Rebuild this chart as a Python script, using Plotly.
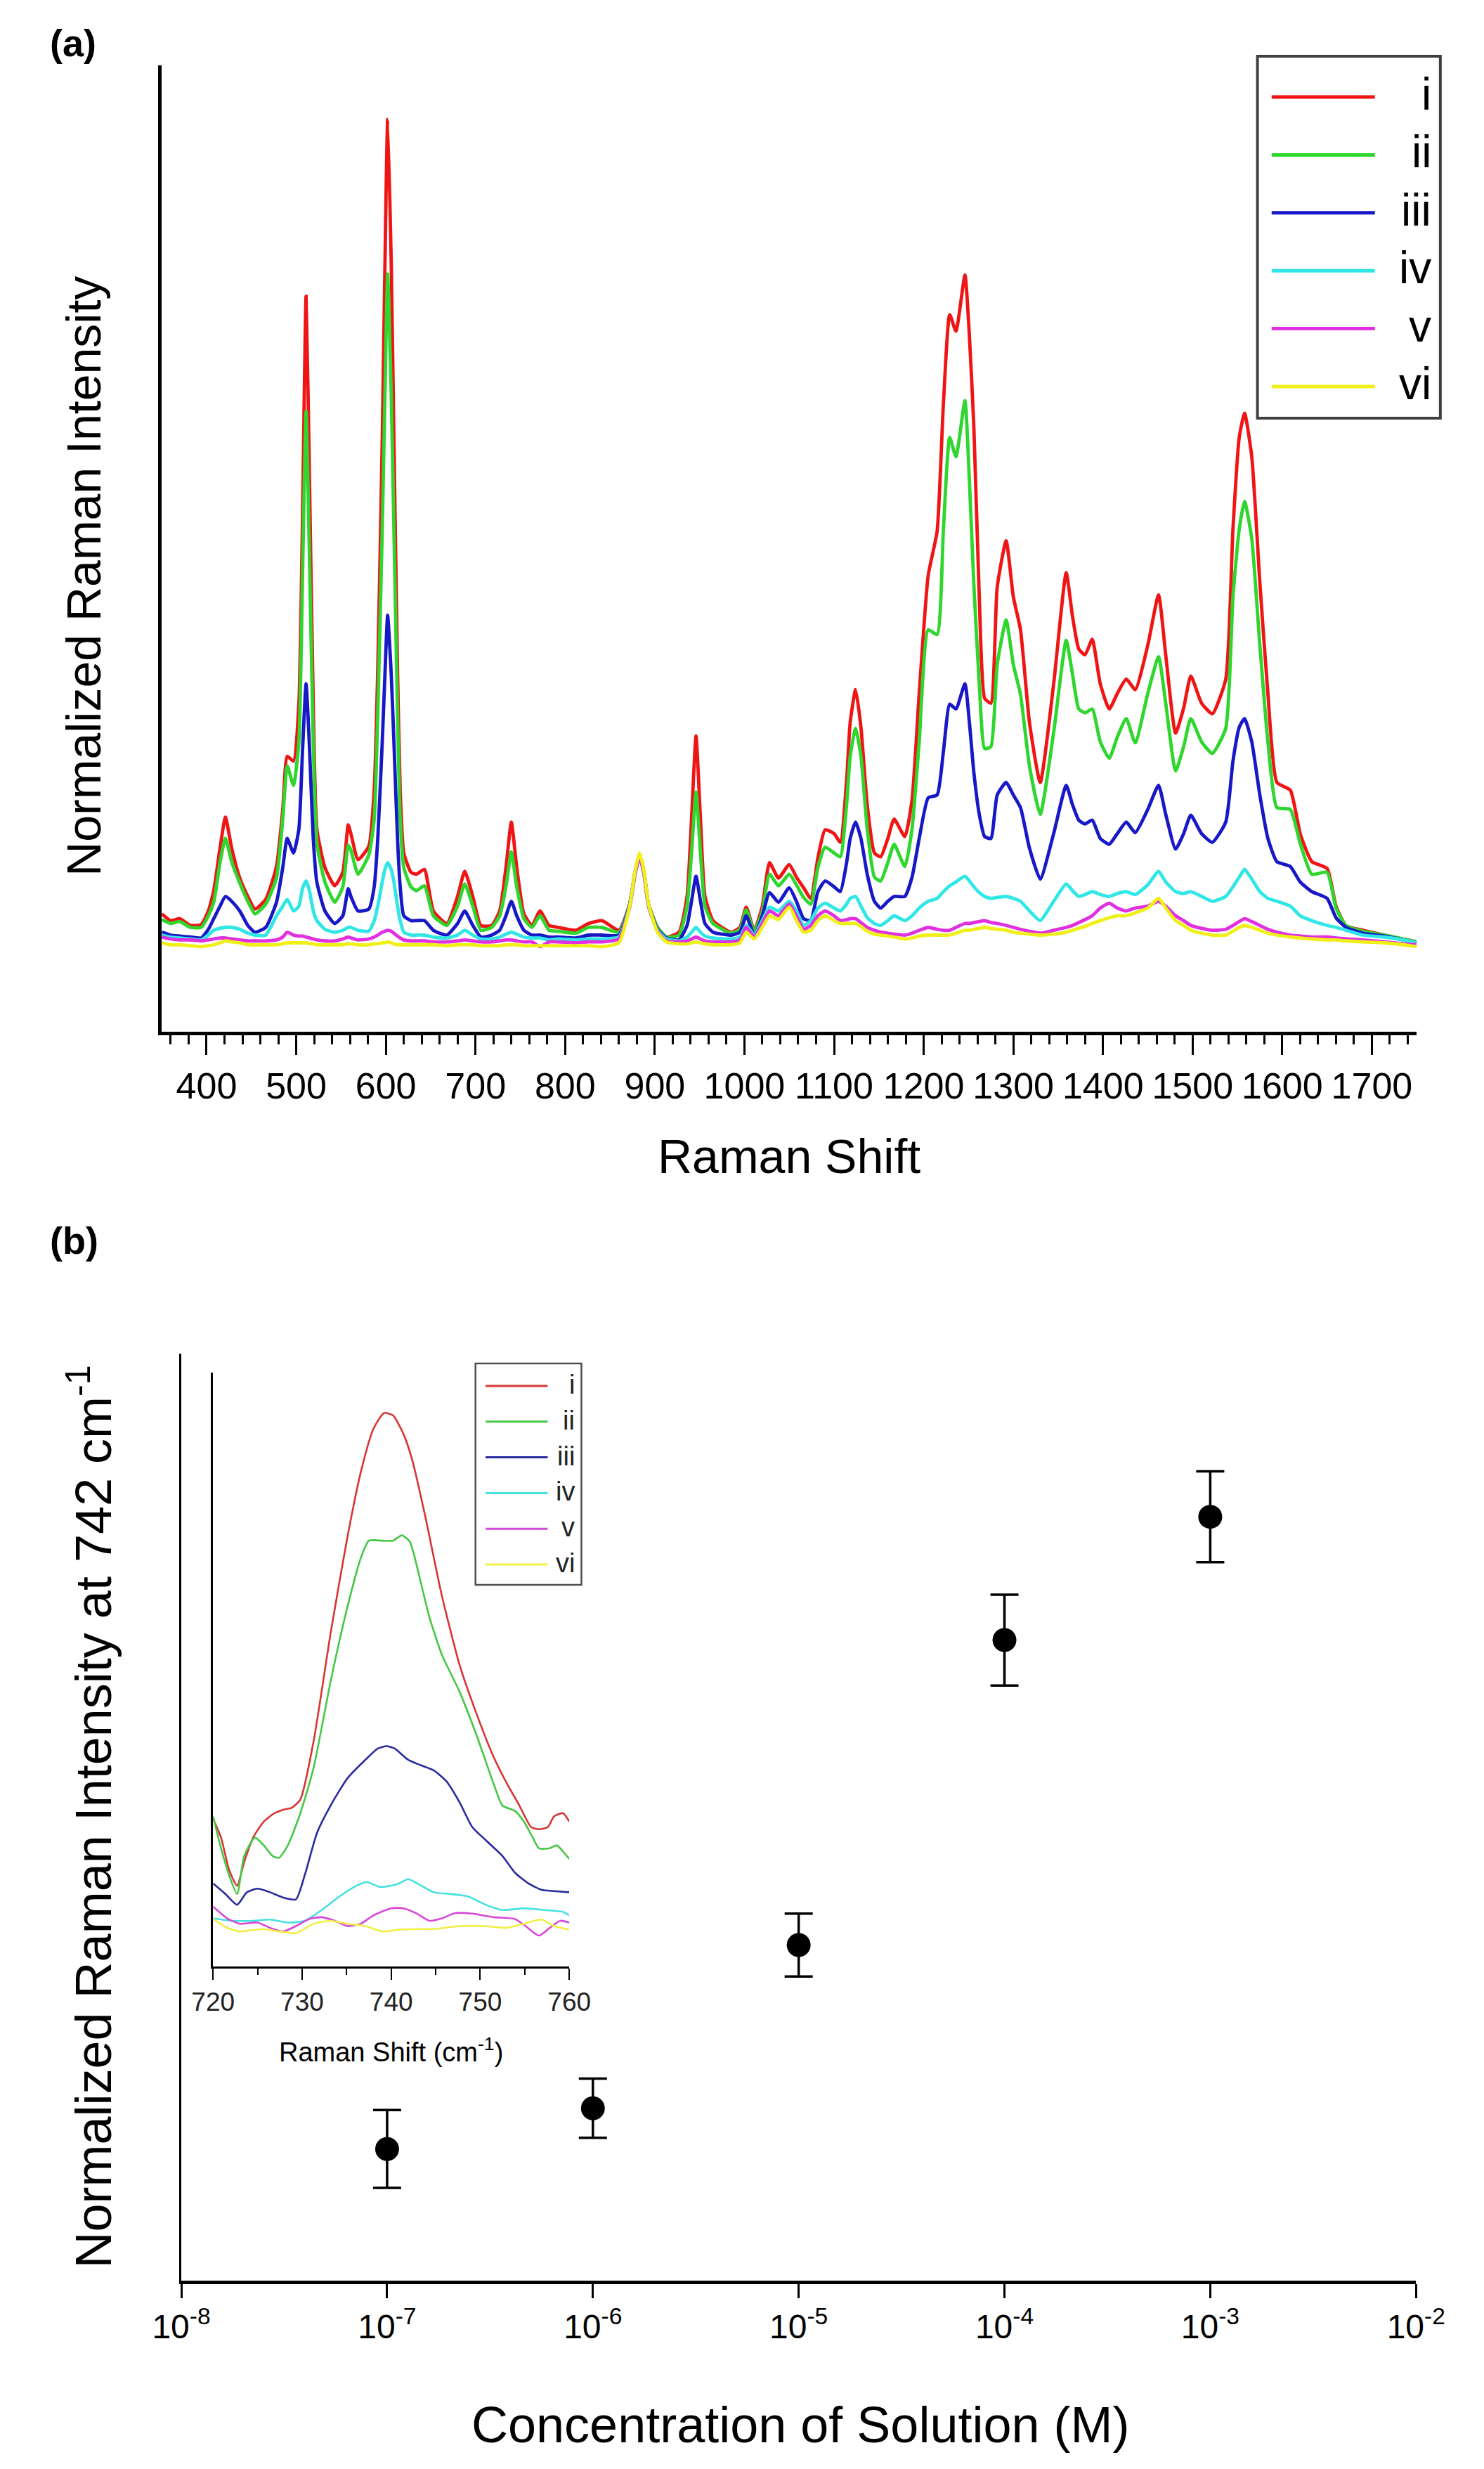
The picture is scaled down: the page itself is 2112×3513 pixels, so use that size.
import plotly.graph_objects as go

W, H = 2112, 3513
FONT = "Liberation Sans, Arial, sans-serif"

def fx(px):
    return px / W

def fy(py):
    return 1 - py / H

# ---------------- Panel (a): SERS spectra ----------------
raman_shift = [
    350, 360, 370, 382, 394, 402, 408, 415, 421, 428,
    437, 446, 454, 466, 478, 485, 490, 497, 503, 507,
    511, 515, 519, 523, 532, 543, 552, 558, 561, 569,
    581, 587, 591, 596, 599, 602, 606, 609, 613, 616, 620, 628,
    634, 643, 653, 668, 680, 688, 697, 706, 718, 727,
    734, 740, 746, 754, 763, 772, 782, 792, 812, 826,
    841, 860, 872, 878, 883, 888, 893, 903, 913, 927,
    936, 941, 946, 951, 956, 965, 985, 995, 1002, 1011,
    1020, 1028, 1038, 1050, 1058, 1066, 1074, 1082, 1090, 1100,
    1107, 1114, 1118, 1124, 1130, 1137, 1145, 1152, 1160, 1167,
    1179, 1187, 1195, 1205, 1215, 1222, 1229, 1236, 1246, 1251,
    1256, 1262, 1268, 1275, 1282, 1292, 1300, 1308, 1318, 1330,
    1345, 1359, 1366, 1373, 1380, 1388, 1397, 1407, 1416, 1426,
    1436, 1450, 1462, 1470, 1481, 1490, 1498, 1510, 1522, 1537,
    1545, 1552, 1558, 1566, 1575, 1584, 1594, 1609, 1620, 1633,
    1650, 1660, 1671, 1690, 1714, 1735, 1750,
]

spec_i = [
    12.2, 11.5, 11.7, 11.0, 11.1, 12.5, 14.6, 19.0, 22.2, 19.0,
    15.9, 14.0, 12.7, 13.7, 17.1, 23.0, 28.5, 28.0, 34.0, 53.0,
    76.1, 56.0, 34.0, 21.0, 17.0, 15.1, 16.5, 21.4, 20.5, 17.8,
    19.2, 25.0, 37.6, 61.3, 79.5, 94.4, 79.5, 61.3, 37.6, 25.0, 18.5, 16.5,
    16.3, 16.8, 12.5, 11.2, 14.0, 16.6, 14.0, 11.0, 11.0, 12.5,
    17.0, 21.7, 17.0, 12.2, 11.0, 12.5, 11.0, 10.8, 10.5, 11.2,
    11.5, 10.5, 13.2, 16.5, 18.3, 16.5, 13.2, 10.8, 9.8, 10.3,
    14.0, 22.0, 30.6, 22.0, 14.0, 11.5, 10.3, 10.8, 12.9, 10.5,
    13.0, 17.5, 15.9, 17.3, 16.0, 14.9, 13.8, 18.0, 20.9, 20.5,
    19.6, 26.0, 32.0, 35.4, 31.5, 23.5, 18.5, 18.1, 20.0, 22.0,
    20.2, 24.0, 35.0, 47.2, 51.8, 65.0, 74.2, 72.5, 78.3, 72.0,
    62.5, 45.0, 34.5, 34.0, 46.0, 50.8, 45.0, 41.6, 32.0, 25.8,
    36.0, 47.5, 43.0, 39.6, 39.0, 40.6, 36.0, 33.4, 35.0, 36.5,
    35.4, 40.0, 45.2, 39.0, 30.9, 33.5, 36.8, 34.0, 32.9, 36.5,
    52.0, 61.5, 64.0, 59.5, 46.5, 35.0, 25.8, 25.0, 20.5, 17.6,
    16.9, 13.0, 11.0, 10.5, 10.0, 9.6, 9.3,
]

spec_ii = [
    11.6, 11.2, 11.4, 10.8, 10.8, 12.0, 13.4, 17.5, 20.0, 17.6,
    15.4, 13.5, 12.2, 13.2, 15.9, 22.0, 27.5, 25.5, 30.0, 47.0,
    64.2, 48.0, 30.0, 19.5, 15.5, 13.4, 15.0, 19.3, 18.8, 16.3,
    18.3, 22.0, 33.0, 52.0, 66.0, 78.4, 66.0, 52.0, 33.0, 22.0, 17.0, 15.0,
    14.6, 15.1, 12.0, 11.0, 13.0, 15.3, 13.0, 10.5, 10.8, 12.0,
    15.0, 18.6, 15.0, 11.7, 10.8, 12.0, 10.5, 10.4, 10.2, 10.8,
    10.8, 10.3, 13.2, 16.5, 18.3, 16.5, 13.2, 10.8, 9.8, 10.0,
    13.0, 18.5, 24.8, 18.5, 13.0, 11.2, 10.2, 10.6, 12.6, 10.4,
    12.5, 16.3, 15.1, 16.3, 15.2, 13.9, 13.2, 17.0, 19.1, 18.5,
    18.1, 23.5, 28.5, 31.4, 28.5, 21.0, 16.0, 15.6, 17.5, 19.4,
    17.1, 21.0, 30.0, 41.6, 41.1, 52.0, 61.5, 59.5, 65.3, 57.0,
    46.2, 36.0, 29.3, 29.5, 38.0, 42.6, 38.0, 34.9, 27.5, 22.5,
    31.0, 40.5, 37.0, 33.4, 33.0, 33.4, 30.0, 28.3, 30.5, 32.4,
    29.9, 35.0, 38.8, 34.0, 27.0, 29.5, 32.4, 30.0, 28.8, 31.4,
    45.0, 52.0, 54.9, 51.0, 40.0, 30.0, 23.2, 23.0, 19.5, 16.3,
    16.5, 12.8, 11.0, 10.4, 10.0, 9.6, 9.3,
]

spec_iii = [
    10.3, 10.0, 9.9, 9.8, 9.7, 10.6, 11.7, 13.0, 14.0, 13.5,
    12.5, 11.0, 10.3, 10.8, 13.4, 17.0, 20.0, 18.5, 21.0, 29.0,
    36.0, 29.0, 20.0, 15.5, 12.5, 11.2, 12.0, 14.8, 14.0, 12.5,
    12.7, 15.0, 20.0, 30.0, 37.0, 43.1, 37.0, 30.0, 20.0, 15.0, 12.0, 11.5,
    11.5, 11.5, 10.5, 10.0, 11.2, 12.5, 11.0, 9.8, 10.0, 10.5,
    12.0, 13.5, 12.0, 10.5, 10.0, 10.0, 9.8, 9.8, 9.7, 10.0,
    10.0, 10.0, 13.2, 16.5, 18.3, 16.4, 13.1, 10.6, 9.7, 9.5,
    11.0, 13.5, 16.1, 13.5, 11.2, 10.3, 10.0, 10.3, 12.0, 10.0,
    12.0, 14.4, 13.4, 14.9, 13.5, 11.7, 11.5, 14.5, 15.6, 15.0,
    14.5, 17.5, 20.0, 21.7, 20.0, 16.3, 13.5, 12.8, 13.5, 14.0,
    14.0, 16.0, 20.0, 24.2, 24.5, 29.0, 33.9, 33.4, 36.0, 32.0,
    26.8, 22.5, 20.2, 20.0, 24.5, 25.8, 24.5, 23.2, 19.0, 15.8,
    20.5, 25.5, 23.5, 21.9, 21.5, 21.9, 20.0, 19.4, 20.5, 21.7,
    20.6, 23.0, 25.5, 22.5, 18.9, 20.5, 22.4, 20.5, 19.6, 21.7,
    28.0, 31.5, 32.4, 30.0, 24.5, 20.0, 17.6, 17.1, 15.5, 14.5,
    13.8, 11.8, 10.8, 10.2, 9.9, 9.5, 9.2,
]

spec_iv = [
    10.0, 9.8, 9.7, 9.6, 9.5, 10.0, 10.5, 10.7, 10.8, 10.8,
    10.6, 10.2, 10.0, 10.0, 12.0, 13.0, 13.7, 12.5, 13.0, 14.8,
    15.6, 14.5, 12.5, 11.5, 10.6, 10.3, 10.5, 10.8, 10.8, 10.5,
    10.4, 11.5, 13.0, 15.5, 16.8, 17.5, 16.8, 15.5, 13.0, 11.5, 10.3, 10.0,
    10.0, 10.0, 9.8, 9.7, 10.0, 10.5, 10.0, 9.6, 9.6, 9.8,
    10.1, 10.3, 10.1, 9.8, 9.7, 9.7, 9.5, 9.6, 9.5, 9.6,
    9.6, 9.8, 13.0, 16.3, 18.1, 16.3, 13.0, 10.5, 9.6, 9.4,
    9.8, 10.3, 10.8, 10.3, 9.9, 9.7, 9.6, 9.8, 11.0, 10.0,
    11.5, 12.9, 12.5, 13.5, 12.5, 11.0, 11.5, 12.8, 13.3, 12.8,
    12.5, 13.2, 13.8, 14.0, 13.0, 11.8, 11.2, 11.0, 11.5, 12.0,
    11.5, 12.0, 12.8, 13.5, 13.8, 14.5, 15.1, 15.5, 16.1, 15.6,
    15.0, 14.4, 14.0, 13.8, 13.9, 14.0, 13.8, 13.5, 12.5, 11.5,
    13.5, 15.3, 14.6, 14.0, 14.2, 14.5, 14.2, 14.0, 14.3, 14.5,
    14.2, 15.2, 16.6, 15.5, 14.5, 14.3, 14.5, 14.0, 13.5, 14.0,
    15.0, 16.0, 16.8, 15.8, 14.5, 13.8, 13.5, 13.0, 12.0, 11.5,
    11.0, 10.8, 10.5, 10.0, 9.8, 9.5, 9.2,
]

spec_v = [
    9.8, 9.6, 9.5, 9.5, 9.4, 9.5, 9.6, 9.7, 9.7, 9.6,
    9.5, 9.4, 9.4, 9.4, 9.5, 9.8, 10.3, 10.0, 9.9, 9.9,
    9.8, 9.7, 9.6, 9.5, 9.4, 9.4, 9.6, 9.8, 9.7, 9.5,
    9.6, 9.8, 10.0, 10.3, 10.4, 10.5, 10.4, 10.2, 9.9, 9.7, 9.5, 9.4,
    9.4, 9.4, 9.3, 9.3, 9.4, 9.5, 9.4, 9.3, 9.3, 9.4,
    9.5, 9.5, 9.4, 9.3, 9.3, 8.8, 9.3, 9.3, 9.2, 9.3,
    9.3, 9.6, 12.9, 16.3, 18.1, 16.3, 13.0, 10.4, 9.4, 9.3,
    9.4, 9.6, 9.8, 9.6, 9.4, 9.3, 9.3, 9.5, 10.8, 9.8,
    11.2, 12.5, 12.0, 13.2, 12.0, 10.6, 11.0, 12.0, 12.5, 12.0,
    11.5, 11.6, 11.7, 11.7, 11.3, 10.8, 10.5, 10.3, 10.2, 10.1,
    10.0, 10.2, 10.5, 10.8, 10.6, 10.5, 10.5, 10.8, 11.2, 11.2,
    11.3, 11.4, 11.5, 11.3, 11.2, 11.0, 10.8, 10.6, 10.4, 10.2,
    10.5, 10.8, 11.0, 11.3, 11.6, 12.0, 12.8, 13.3, 12.8, 12.5,
    12.8, 13.0, 13.5, 13.0, 12.0, 11.5, 11.0, 10.7, 10.5, 10.6,
    11.0, 11.4, 11.7, 11.4, 11.0, 10.6, 10.3, 10.0, 9.9, 9.8,
    9.8, 9.7, 9.6, 9.5, 9.3, 9.1, 9.0,
]

spec_vi = [
    9.2, 9.0, 9.0, 8.9, 8.8, 8.9, 9.0, 9.2, 9.4, 9.3,
    9.2, 9.0, 9.0, 9.0, 9.0, 9.1, 9.2, 9.2, 9.2, 9.2,
    9.2, 9.1, 9.1, 9.0, 9.0, 9.0, 9.0, 9.1, 9.1, 9.0,
    9.0, 9.1, 9.1, 9.2, 9.2, 9.3, 9.2, 9.1, 9.0, 9.0, 9.0, 9.0,
    9.0, 9.0, 9.0, 8.9, 9.0, 9.0, 9.0, 8.9, 8.9, 8.9,
    9.0, 9.0, 9.0, 8.9, 8.9, 8.9, 8.9, 8.9, 8.9, 8.9,
    8.8, 9.2, 13.0, 16.6, 18.5, 16.6, 13.2, 10.3, 9.3, 9.1,
    9.1, 9.2, 9.3, 9.2, 9.1, 9.0, 9.0, 9.2, 10.3, 9.6,
    10.8, 12.0, 11.6, 12.9, 11.5, 10.3, 10.5, 11.5, 12.0, 11.5,
    11.2, 11.2, 11.2, 11.2, 10.9, 10.4, 10.1, 10.0, 9.9, 9.8,
    9.6, 9.7, 9.9, 10.0, 10.0, 10.0, 10.0, 10.2, 10.5, 10.5,
    10.6, 10.7, 10.8, 10.7, 10.6, 10.5, 10.3, 10.2, 10.1, 10.0,
    10.1, 10.3, 10.5, 10.7, 10.9, 11.2, 11.5, 11.8, 12.0, 12.0,
    12.3, 12.8, 13.8, 12.8, 11.5, 11.0, 10.5, 10.2, 10.0, 10.0,
    10.4, 10.8, 11.0, 10.8, 10.5, 10.2, 10.0, 9.8, 9.7, 9.6,
    9.5, 9.5, 9.4, 9.3, 9.2, 9.0, 8.8,
]

series_names = ["i", "ii", "iii", "iv", "v", "vi"]
spectra = [spec_i, spec_ii, spec_iii, spec_iv, spec_v, spec_vi]
colors_a = ["#F01515", "#2ED62E", "#1818C8", "#30E6E6", "#E030E0", "#F0F018"]

wn_ticks = list(range(400, 1800, 100))

# ---------------- Panel (b): intensity vs concentration ----------------
concentration = [1e-7, 1e-6, 1e-5, 1e-4, 1e-3]
intensity_742 = [14.2, 18.6, 36.2, 69.1, 82.4]
intensity_err = [4.2, 3.2, 3.4, 4.9, 4.9]
conc_ticks = [1e-8, 1e-7, 1e-6, 1e-5, 1e-4, 1e-3, 1e-2]
conc_ticktext = ["10<sup>-8</sup>", "10<sup>-7</sup>", "10<sup>-6</sup>", "10<sup>-5</sup>",
                 "10<sup>-4</sup>", "10<sup>-3</sup>", "10<sup>-2</sup>"]

# ---------------- Inset: 742 cm-1 band ----------------
inset_x_i = [720, 720.9, 721.8, 722.7, 723.5, 724.5, 725.7, 726.9, 727.9, 728.8,
             729.8, 731.3, 733.2, 735.1, 736.6, 738.0, 739.2, 740.2, 741.4, 742.4,
             743.8, 745.7, 747.7, 749.6, 751.5, 753.0, 754.4, 755.7, 756.6, 757.6,
             758.3, 759.3, 760]
inset_y_i = [24.9, 21.7, 16.3, 13.6, 17.6, 21.7, 24.4, 25.8, 26.4, 26.7,
             28.1, 38.0, 56.1, 72.4, 83.3, 90.5, 93.2, 92.8, 89.6, 85.1,
             76.0, 62.4, 50.7, 42.5, 35.3, 30.8, 27.1, 23.5, 23.1, 23.5,
             25.3, 25.8, 24.4]
inset_x_ii = [720, 720.9, 721.8, 722.7, 723.5, 724.7, 725.7, 726.7, 727.4, 728.4,
              729.8, 731.3, 733.2, 735.1, 736.6, 737.5, 739.0, 740.2, 741.2, 742.1,
              743.1, 744.3, 745.7, 747.7, 749.6, 751.5, 752.5, 753.9, 754.9, 755.9,
              756.6, 757.8, 758.6, 759.5, 760]
inset_y_ii = [25.3, 19.9, 15.4, 12.2, 18.6, 21.7, 20.4, 18.6, 18.3, 20.4,
              25.8, 33.5, 48.0, 60.6, 68.8, 71.7, 71.7, 71.7, 72.6, 71.5,
              66.1, 58.8, 52.5, 46.2, 38.9, 30.8, 27.1, 26.2, 24.4, 21.7,
              19.9, 19.9, 20.4, 19.0, 18.1]
inset_x_iii = [720, 721.4, 722.7, 723.8, 725.0, 726.4, 727.9, 729.3, 730.3, 731.7,
               733.2, 735.1, 737.1, 738.5, 739.5, 740.4, 741.9, 743.3, 744.8, 746.2,
               747.7, 749.1, 750.6, 752.5, 753.9, 755.4, 756.9, 758.3, 760]
inset_y_iii = [14.0, 12.2, 10.4, 12.5, 13.1, 12.5, 11.6, 11.3, 15.4, 22.6,
               27.1, 31.7, 34.8, 36.7, 37.1, 36.7, 34.8, 33.9, 33.0, 31.2,
               27.6, 23.5, 21.3, 18.6, 15.8, 14.0, 12.9, 12.7, 12.5]
inset_x_iv = [720, 722.1, 724.5, 726.4, 728.4, 730.3, 732.2, 734.2, 736.1, 737.3,
              738.7, 740.0, 740.9, 741.9, 742.9, 744.8, 746.7, 748.6, 750.6, 752.5,
              754.9, 757.3, 759.3, 760]
inset_y_iv = [8.1, 7.7, 7.7, 7.9, 7.4, 7.7, 9.5, 11.8, 13.6, 14.2,
              13.4, 13.6, 14.0, 14.7, 14.0, 12.5, 12.2, 11.8, 10.4, 9.5,
              9.8, 9.5, 9.2, 8.6]
inset_x_v = [720, 721.6, 723.0, 725.0, 726.4, 727.9, 729.3, 730.8, 732.2, 733.7,
             735.1, 736.6, 738.0, 740.0, 741.4, 742.9, 744.3, 745.7, 747.2, 749.1,
             751.5, 753.9, 755.1, 756.6, 757.8, 759.0, 760]
inset_y_v = [10.1, 8.1, 7.2, 7.4, 6.5, 5.9, 6.8, 8.0, 8.3, 7.7,
             6.8, 7.2, 8.6, 9.8, 9.8, 8.9, 7.7, 8.1, 9.0, 8.9,
             8.3, 8.0, 6.8, 5.2, 6.5, 7.7, 7.4]
inset_x_vi = [720, 721.6, 723.0, 725.5, 727.4, 729.3, 731.3, 733.2, 735.1, 737.1,
              739.0, 740.9, 742.9, 744.8, 747.7, 750.6, 753.0, 754.9, 756.9, 758.3,
              760]
inset_y_vi = [8.0, 6.5, 5.9, 6.3, 5.9, 5.6, 7.2, 7.7, 7.2, 6.8,
              5.9, 6.2, 6.3, 6.3, 6.8, 6.8, 6.5, 7.2, 7.9, 6.8,
              6.2]
inset_xs = [inset_x_i, inset_x_ii, inset_x_iii, inset_x_iv, inset_x_v, inset_x_vi]
inset_ys = [inset_y_i, inset_y_ii, inset_y_iii, inset_y_iv, inset_y_v, inset_y_vi]
colors_inset = ["#D83535", "#45C845", "#2A2AA0", "#45E0E0", "#D848D8", "#F0F045"]
inset_ticks = [720, 730, 740, 750, 760]

# ---------------- Figure ----------------
fig = go.Figure()

for name, ys, col in zip(series_names, spectra, colors_a):
    fig.add_trace(go.Scatter(
        x=raman_shift, y=ys, mode="lines", name=name,
        line=dict(color=col, width=4.8, shape="spline", smoothing=0.5),
        xaxis="x", yaxis="y", showlegend=False))

fig.add_trace(go.Scatter(
    x=concentration, y=intensity_742, mode="markers",
    marker=dict(color="black", size=34),
    error_y=dict(type="data", array=intensity_err, visible=True,
                 color="black", thickness=3.5, width=20),
    xaxis="x2", yaxis="y2", showlegend=False))

for name, xs, ys, col in zip(series_names, inset_xs, inset_ys, colors_inset):
    fig.add_trace(go.Scatter(
        x=xs, y=ys, mode="lines", name=name,
        line=dict(color=col, width=2.6, shape="spline", smoothing=0.6),
        xaxis="x3", yaxis="y3", showlegend=False))

shapes = []
annotations = []

# Legend of panel (a)
shapes.append(dict(type="rect", xref="paper", yref="paper",
                   x0=fx(1820), x1=fx(2091), y0=fy(595), y1=fy(80),
                   line=dict(color="#404040", width=4), fillcolor="white", layer="above"))
for k, (name, col) in enumerate(zip(series_names, colors_a)):
    yy = 138 + 82.4 * k
    shapes.append(dict(type="line", xref="paper", yref="paper",
                       x0=fx(1841), x1=fx(1994), y0=fy(yy), y1=fy(yy),
                       line=dict(color=col, width=5), layer="above"))
    annotations.append(dict(text=name, xref="paper", yref="paper",
                            x=fx(2080), y=fy(yy - 4), xanchor="right", yanchor="middle",
                            showarrow=False, font=dict(family=FONT, size=64, color="black")))

# Legend of inset
shapes.append(dict(type="rect", xref="paper", yref="paper",
                   x0=fx(661), x1=fx(818), y0=fy(2255), y1=fy(1940),
                   line=dict(color="#505050", width=2.5), fillcolor="white", layer="above"))
for k, (name, col) in enumerate(zip(series_names, colors_inset)):
    yy = 1972 + 50.8 * k
    shapes.append(dict(type="line", xref="paper", yref="paper",
                       x0=fx(676), x1=fx(768), y0=fy(yy), y1=fy(yy),
                       line=dict(color=col, width=3), layer="above"))
    annotations.append(dict(text=name, xref="paper", yref="paper",
                            x=fx(810), y=fy(yy - 2), xanchor="right", yanchor="middle",
                            showarrow=False, font=dict(family=FONT, size=38, color="#222222")))

# Panel labels and titles
def label(text, x, y, size, angle=0, xanchor="center", bold=False):
    annotations.append(dict(
        text=("<b>%s</b>" % text) if bold else text,
        xref="paper", yref="paper", x=fx(x), y=fy(y),
        xanchor=xanchor, yanchor="middle", textangle=angle, showarrow=False,
        font=dict(family=FONT, size=size, color="black")))

label("(a)", 28, 61, 54, xanchor="left", bold=True)
label("(b)", 28, 1765, 54, xanchor="left", bold=True)
label("Raman Shift", 1126, 1645, 68)
label("Normalized Raman Intensity", 80, 820, 68, angle=-90)
label("Normalized Raman Intensity at 742 cm<sup>-1</sup>", 88, 2585, 72, angle=-90)
label("Concentration of Solution (M)", 1142, 3450, 72)
label("Raman Shift (cm<sup>-1</sup>)", 536, 2917, 38)

axis_common = dict(showgrid=False, zeroline=False, linecolor="black", color="black")

fig.update_layout(
    width=W, height=H, autosize=False,
    margin=dict(l=0, r=0, t=0, b=0, pad=0),
    paper_bgcolor="white", plot_bgcolor="white",
    font=dict(family=FONT, color="black"),
    showlegend=False,
    shapes=shapes, annotations=annotations,
    xaxis=dict(**axis_common, domain=[fx(196), fx(2056)], range=[350, 1750],
               anchor="y", showline=True, linewidth=5,
               tickmode="array", tickvals=wn_ticks,
               ticks="outside", ticklen=28, tickwidth=3,
               minor=dict(ticks="outside", dtick=20, tick0=400, ticklen=13, tickwidth=3),
               tickfont=dict(family=FONT, size=52)),
    yaxis=dict(**axis_common, domain=[fy(1468), fy(93)], range=[0, 100],
               anchor="x", showline=True, linewidth=5, showticklabels=False, ticks=""),
    xaxis2=dict(**axis_common, domain=[fx(225), fx(2055)], type="log", range=[-8, -2],
                anchor="y2", showline=True, linewidth=4.5,
                tickmode="array", tickvals=conc_ticks, ticktext=conc_ticktext,
                ticks="outside", ticklen=20, tickwidth=3,
                tickfont=dict(family=FONT, size=48)),
    yaxis2=dict(**axis_common, domain=[fy(3245), fy(1926)], range=[0, 100],
                anchor="x2", showline=True, linewidth=3, showticklabels=False, ticks=""),
    xaxis3=dict(**axis_common, domain=[fx(272), fx(800)], range=[720, 760],
                anchor="y3", showline=True, linewidth=3,
                tickmode="array", tickvals=inset_ticks,
                ticks="outside", ticklen=16, tickwidth=2,
                minor=dict(ticks="outside", dtick=5, tick0=720, ticklen=9, tickwidth=2),
                tickfont=dict(family=FONT, size=37, color="#222222")),
    yaxis3=dict(**axis_common, domain=[fy(2798), fy(1953)], range=[0, 100],
                anchor="x3", showline=True, linewidth=3, showticklabels=False, ticks=""),
)

fig.write_html("out.html", config={"displayModeBar": False},
               post_script="document.body.style.margin='0';")
